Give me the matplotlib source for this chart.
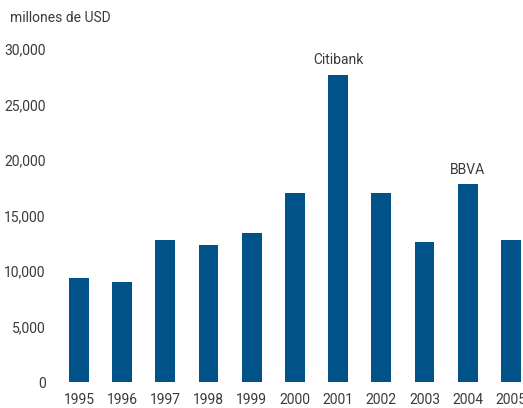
import matplotlib
matplotlib.use("Agg")
import matplotlib.pyplot as plt

plt.rcParams['font.family'] = ['Roboto', 'DejaVu Sans']

years = ['1995', '1996', '1997', '1998', '1999', '2000', '2001', '2002', '2003', '2004', '2005']
values = [9400, 9000, 12750, 12300, 13400, 17000, 27650, 17000, 12650, 17800, 12750]
notes = {'2001': 'Citibank', '2004': 'BBVA'}
yticks = [0, 5000, 10000, 15000, 20000, 25000, 30000]

BAR_COLOR = '#02528a'
TEXT_COLOR = '#3a3a3a'

W, H = 523, 408
fig = plt.figure(figsize=(W / 100, H / 100), dpi=100)
# axes in pixel terms: left 50, right 523, bottom 382, top 49
ax = fig.add_axes([50 / W, (H - 382) / H, (523 - 50) / W, (382 - 49) / H])

x = list(range(len(years)))
ax.bar(x, values, width=0.46, color=BAR_COLOR)

for i, (yr, v) in enumerate(zip(years, values)):
    if yr in notes:
        ax.text(i, v + 700, notes[yr], ha='center', va='bottom',
                fontsize=10, color=TEXT_COLOR)

ax.set_xlim(-0.67, 10.28)
ax.set_ylim(0, 30000)
ax.set_xticks(x)
ax.set_xticklabels(years)
ax.set_yticks(yticks)
ax.set_yticklabels([f"{t:,}" for t in yticks])
ax.tick_params(length=0, labelsize=10, labelcolor=TEXT_COLOR)
ax.tick_params(axis='x', pad=8)
ax.tick_params(axis='y', pad=3)
for s in ax.spines.values():
    s.set_visible(False)

fig.text(10 / W, 1 - 18 / H, 'millones de USD', ha='left', va='center',
         fontsize=10, color=TEXT_COLOR)

fig.savefig('out.png', dpi=100)
